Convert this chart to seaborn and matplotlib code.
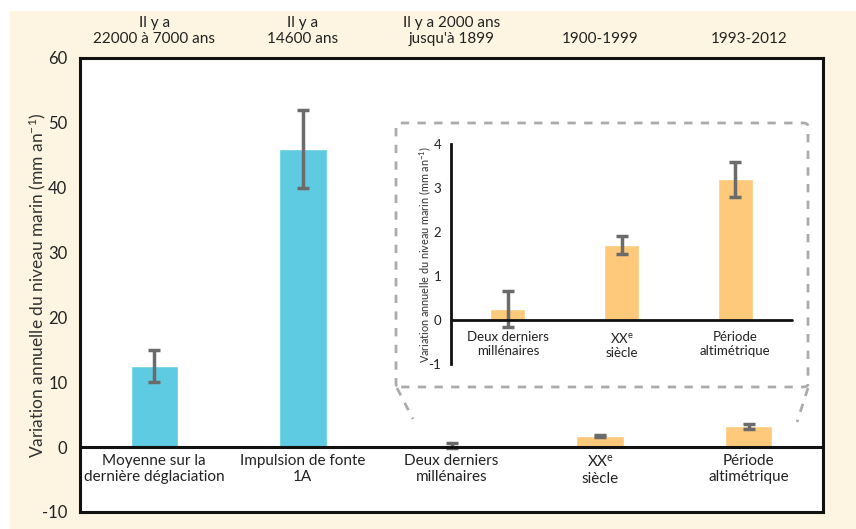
import matplotlib
matplotlib.use("Agg")
import matplotlib.pyplot as plt
import seaborn as sns
import pandas as pd
from matplotlib.patches import Rectangle, FancyBboxPatch
from matplotlib.lines import Line2D
import matplotlib.transforms as mtransforms

# ---- data ----
main_labels = ["Moyenne sur la\ndernière déglaciation", "Impulsion de fonte\n1A",
               "Deux derniers\nmillénaires", "XX$^{\\mathrm{e}}$\nsiècle", "Période\naltimétrique"]
top_labels = ["Il y a\n22000 à 7000 ans", "Il y a\n14600 ans",
              "Il y a 2000 ans\njusqu'à 1899", "1900-1999", "1993-2012"]
main_values = [12.5, 46.0, 0.25, 1.7, 3.2]
main_errors = [2.5, 6.0, 0.4, 0.2, 0.4]
main_colors = ["#5ecbe3", "#5ecbe3", "#fec97a", "#fec97a", "#fec97a"]
main_yticks = [-10, 0, 10, 20, 30, 40, 50, 60]

inset_labels = ["Deux derniers\nmillénaires", "XX$^{\\mathrm{e}}$\nsiècle", "Période\naltimétrique"]
inset_values = [0.25, 1.7, 3.2]
inset_errors = [0.4, 0.2, 0.4]
inset_yticks = [-1, 0, 1, 2, 3, 4]

CREAM = "#fdf5e1"
ERR = "#6b6b6b"
DASH = "#ababab"

sns.set_style("white")
plt.rcParams["font.family"] = ["Lato", "DejaVu Sans"]
plt.rcParams["mathtext.fontset"] = "custom"
plt.rcParams["mathtext.rm"] = "Lato"
plt.rcParams["mathtext.it"] = "Lato:italic"

W, H = 856, 529
fig = plt.figure(figsize=(W / 100, H / 100), dpi=100, facecolor="white")
fig.patches.append(Rectangle((10 / W, 0), 1, (H - 11) / H, transform=fig.transFigure,
                             facecolor=CREAM, edgecolor="none", zorder=-10))

def px_axes(x0, x1, ytop, ybot):
    return fig.add_axes([x0 / W, (H - ybot) / H, (x1 - x0) / W, (ybot - ytop) / H])

# ---- main axes ----
ax = px_axes(80, 823, 58, 512)
ax.set_facecolor("white")
df = pd.DataFrame({"cat": [f"c{i}" for i in range(5)], "val": main_values})
sns.barplot(data=df, x="cat", y="val", hue="cat", palette=main_colors, legend=False,
            width=0.32, ax=ax, saturation=1)
ax.errorbar(range(5), main_values, yerr=main_errors, fmt="none", ecolor=ERR,
            elinewidth=2.5, capsize=4, capthick=2.5, zorder=5)
ax.set_xlim(-0.5, 4.5)
ax.set_ylim(-10, 60)
ax.set_yticks(main_yticks)
ax.set_yticklabels([str(t) for t in main_yticks], fontsize=12)
ax.set_xticks([])
ax.set_xlabel("")
ax.set_ylabel("Variation annuelle du niveau marin (mm an$^{\\mathrm{-1}}$)", fontsize=12.5,
              color="#333333", labelpad=-4)
ax.tick_params(axis="y", direction="in", length=3, width=2, color="black", pad=9,
               labelcolor="#222222")
for s in ax.spines.values():
    s.set_visible(True)
    s.set_linewidth(2.2)
    s.set_color("#111111")
ax.axhline(0, color="#111111", lw=2.2, zorder=6)

for i, t in enumerate(top_labels):
    ax.text(i, 1.027, t, transform=mtransforms.blended_transform_factory(ax.transData, ax.transAxes),
            ha="center", va="bottom", fontsize=11, color="#222222", linespacing=1.15)
for i, t in enumerate(main_labels):
    ax.text(i, -1.0, t, ha="center", va="top", fontsize=11, color="#222222", linespacing=1.25)

# ---- inset ----
box_x0, box_x1, box_yt, box_yb = 396, 808, 123, 387
fig.patches.append(FancyBboxPatch((box_x0 / W, (H - box_yb) / H),
                                  (box_x1 - box_x0) / W, (box_yb - box_yt) / H,
                                  boxstyle="round,pad=0,rounding_size=0.006",
                                  transform=fig.transFigure, facecolor="white",
                                  edgecolor=DASH, lw=2, linestyle=(0, (3, 3)), zorder=8))
fig.lines.append(Line2D([397 / W, 413 / W], [(H - 388) / H, (H - 419) / H], transform=fig.transFigure,
                        color=DASH, lw=2, linestyle=(0, (3, 3)), zorder=8))
fig.lines.append(Line2D([808 / W, 797 / W], [(H - 388) / H, (H - 422) / H], transform=fig.transFigure,
                        color=DASH, lw=2, linestyle=(0, (3, 3)), zorder=8))

ix = px_axes(451, 792, 144, 364)
ix.set_zorder(9)
ix.patch.set_alpha(0)
dfi = pd.DataFrame({"cat": [f"i{i}" for i in range(3)], "val": inset_values})
sns.barplot(data=dfi, x="cat", y="val", color="#fec97a", width=0.31, ax=ix, saturation=1)
ix.errorbar(range(3), inset_values, yerr=inset_errors, fmt="none", ecolor=ERR,
            elinewidth=2.5, capsize=4, capthick=2.5, zorder=5)
ix.set_xlim(-0.5, 2.5)
ix.set_ylim(-1, 4)
ix.set_yticks(inset_yticks)
ix.set_yticklabels([str(t) for t in inset_yticks], fontsize=9.5)
ix.set_xticks([])
ix.set_xlabel("")
ix.set_ylabel("Variation annuelle du niveau marin (mm an$^{\\mathrm{-1}}$)", fontsize=7.8,
              color="#333333", labelpad=-3)
ix.tick_params(axis="y", direction="in", length=3, width=2, color="black", pad=7,
               labelcolor="#222222")
for k in ["top", "right", "bottom"]:
    ix.spines[k].set_visible(False)
ix.spines["left"].set_visible(True)
ix.spines["left"].set_linewidth(2)
ix.spines["left"].set_color("#111111")
ix.axhline(0, color="#111111", lw=2, zorder=6, clip_on=False)
for i, t in enumerate(inset_labels):
    ix.text(i, -0.25, t, ha="center", va="top", fontsize=9.5, color="#222222", linespacing=1.2)

fig.savefig("out.png", dpi=100, facecolor="white")
